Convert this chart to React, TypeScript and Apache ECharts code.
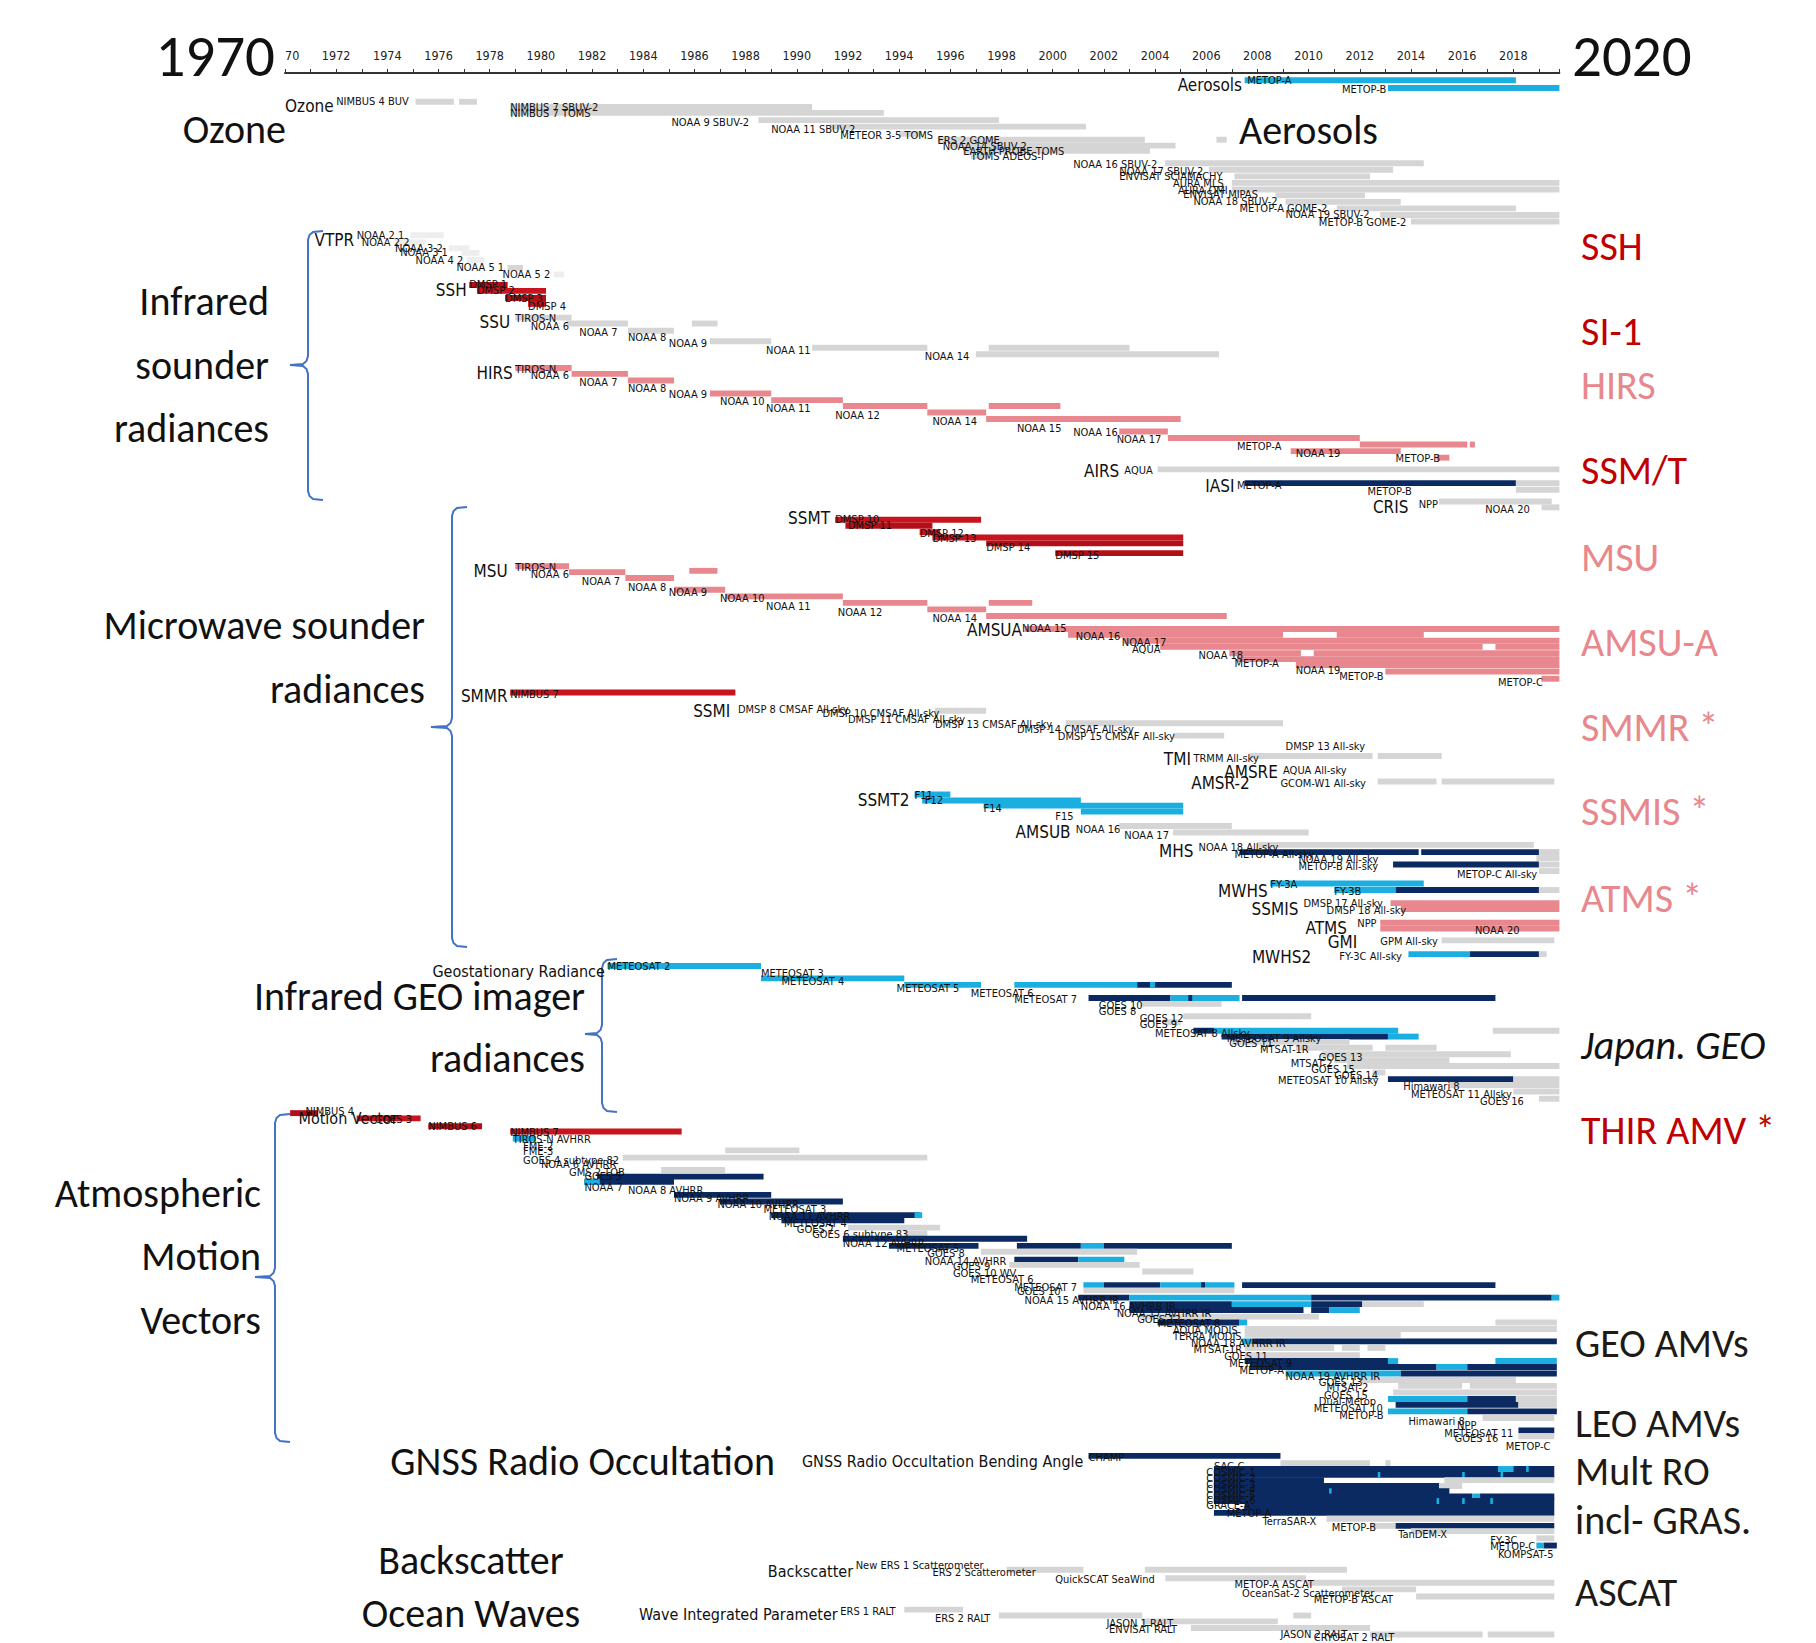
import React, { useEffect, useRef } from "react";
import * as echarts from "echarts";

type Sat = [string, number, number]; // label, row, label left year
type Seg = [number, number, number, string]; // row, start, end, colour key
type Instr = [string, number, number]; // name, row, right-edge year

const X_MIN = 1970;
const X_MAX = 2019.8;
const ROWS = 240;
const BAR_H = 0.9;

const tickYears = [1970, 1972, 1974, 1976, 1978, 1980, 1982, 1984, 1986, 1988, 1990, 1992, 1994, 1996, 1998, 2000, 2002, 2004, 2006, 2008, 2010, 2012, 2014, 2016, 2018];

const BAR_COLORS: Record<string, string> = {
  g: "#d5d5d5",
  v: "#eeeeee",
  r: "#c8141e",
  d: "#b30f18",
  p: "#e8878d",
  c: "#1aafe0",
  n: "#0b2a62",
};

// ---------- Aerosols ----------
const aerosolSats: Sat[] = [["METOP-A", 1.2, 2007.6], ["METOP-B", 2.5, 2011.3]];
const aerosolSegs: Seg[] = [[1.1, 2007.5, 2018.1, "c"], [2.3, 2013.1, 2019.8, "c"]];

// ---------- Ozone ----------
const ozoneSats: Sat[] = [
  ["NIMBUS 4 BUV", 4.4, 1972.0], ["NIMBUS 7 SBUV-2", 5.3, 1978.8], ["NIMBUS 7 TOMS", 6.2, 1978.8],
  ["NOAA 9 SBUV-2", 7.6, 1985.1], ["NOAA 11 SBUV-2", 8.6, 1989.0], ["METEOR 3-5 TOMS", 9.5, 1991.7],
  ["ERS 2 GOME", 10.3, 1995.5], ["NOAA 14 SBUV-2", 11.2, 1995.7], ["EARTH PROBE TOMS", 12.0, 1996.5],
  ["TOMS ADEOS-I", 12.8, 1996.8], ["NOAA 16 SBUV-2", 14.0, 2000.8], ["NOAA 17 SBUV-2", 15.0, 2002.6],
  ["ENVISAT SCIAMACHY", 15.8, 2002.6], ["AURA MLS", 16.9, 2004.7], ["AURA OMI", 17.9, 2004.9],
  ["ENVISAT MIPAS", 18.6, 2005.1], ["NOAA 18 SBUV-2", 19.7, 2005.5], ["METOP-A GOME-2", 20.7, 2007.3],
  ["NOAA 19 SBUV-2", 21.7, 2009.1], ["METOP-B GOME-2", 22.8, 2010.4],
];
const ozoneSegs: Seg[] = [
  [4.4, 1975.1, 1976.6, "g"], [4.4, 1976.8, 1977.5, "g"], [5.2, 1978.8, 1990.6, "g"], [6.1, 1978.8, 1993.4, "g"],
  [7.2, 1988.5, 1997.9, "g"], [8.2, 1991.3, 2001.3, "g"], [9.3, 1994.0, 1994.9, "g"], [10.2, 1995.5, 2003.6, "g"],
  [10.2, 2006.4, 2006.8, "g"], [11.1, 1996.0, 2004.8, "g"], [11.9, 1996.5, 2003.8, "g"], [12.7, 1996.8, 1997.5, "g"],
  [13.8, 2004.4, 2014.5, "g"], [14.8, 2006.1, 2013.3, "g"], [15.8, 2007.1, 2012.4, "g"], [16.8, 2007.0, 2019.8, "g"],
  [17.8, 2007.0, 2019.8, "g"], [18.7, 2008.7, 2012.2, "g"], [19.7, 2009.1, 2013.6, "g"], [20.7, 2011.1, 2018.1, "g"],
  [21.7, 2012.8, 2019.8, "g"], [22.7, 2014.0, 2019.8, "g"],
];

// ---------- Infrared sounders ----------
const irInstr: Instr[] = [["VTPR", 25.5, 1972.7], ["SSH", 33.2, 1977.1], ["SSU", 38.0, 1978.8], ["HIRS", 45.9, 1978.9], ["AIRS", 60.9, 2002.6], ["IASI", 63.2, 2007.1], ["CRIS", 66.3, 2013.9]];
const vtprSats: Sat[] = [["NOAA 2 1", 24.8, 1972.8], ["NOAA 2 2", 25.9, 1973.0], ["NOAA 3 2", 26.8, 1974.3], ["NOAA 3 1", 27.5, 1974.5], ["NOAA 4 2", 28.6, 1975.1], ["NOAA 5 1", 29.8, 1976.7], ["NOAA 5 2", 30.8, 1978.5]];
const vtprSegs: Seg[] = [[24.8, 1974.9, 1976.2, "v"], [25.9, 1974.3, 1975.5, "v"], [26.8, 1976.4, 1977.2, "v"], [27.5, 1976.9, 1977.6, "v"], [28.6, 1977.1, 1977.8, "v"], [29.8, 1978.7, 1979.3, "g"], [30.8, 1980.5, 1980.9, "v"]];
const sshSats: Sat[] = [["DMSP 1", 32.4, 1977.2], ["DMSP 2", 33.3, 1977.5], ["DMSP 3", 34.4, 1978.6], ["DMSP 4", 35.7, 1979.5]];
const sshSegs: Seg[] = [[32.4, 1977.2, 1978.7, "d"], [33.3, 1977.5, 1980.2, "r"], [34.4, 1978.6, 1980.2, "d"], [35.3, 1979.5, 1980.2, "r"]];
const ssuSats: Sat[] = [["TIROS-N", 37.5, 1979.0], ["NOAA 6", 38.7, 1979.6], ["NOAA 7", 39.7, 1981.5], ["NOAA 8", 40.5, 1983.4], ["NOAA 9", 41.4, 1985.0], ["NOAA 11", 42.4, 1988.8], ["NOAA 14", 43.4, 1995.0]];
const ssuSegs: Seg[] = [[37.4, 1979.0, 1981.2, "g"], [38.3, 1981.0, 1983.4, "g"], [38.3, 1985.9, 1986.9, "g"], [39.4, 1983.4, 1985.2, "g"], [41.0, 1986.6, 1989.0, "g"], [42.0, 1990.6, 1995.1, "g"], [42.0, 1997.5, 2003.0, "g"], [43.0, 1997.0, 2006.5, "g"]];
const hirsSats: Sat[] = [
  ["TIROS-N", 45.4, 1979.0], ["NOAA 6", 46.3, 1979.6], ["NOAA 7", 47.3, 1981.5], ["NOAA 8", 48.3, 1983.4], ["NOAA 9", 49.2, 1985.0],
  ["NOAA 10", 50.2, 1987.0], ["NOAA 11", 51.3, 1988.8], ["NOAA 12", 52.3, 1991.5], ["NOAA 14", 53.3, 1995.3], ["NOAA 15", 54.3, 1998.6],
  ["NOAA 16", 55.0, 2000.8], ["NOAA 17", 56.1, 2002.5], ["METOP-A", 57.1, 2007.2], ["NOAA 19", 58.1, 2009.5], ["METOP-B", 59.0, 2013.4],
];
const hirsSegs: Seg[] = [
  [45.1, 1979.0, 1981.2, "p"], [46.0, 1981.2, 1983.4, "p"], [47.0, 1983.4, 1985.2, "p"], [49.0, 1986.6, 1989.0, "p"], [50.0, 1989.0, 1991.8, "p"],
  [50.9, 1991.8, 1995.1, "p"], [50.9, 1997.5, 2000.3, "p"], [51.9, 1995.1, 1997.4, "p"], [52.9, 1997.4, 2005.0, "p"], [54.8, 2002.6, 2004.5, "p"],
  [55.8, 2004.5, 2012.0, "p"], [56.8, 2012.0, 2016.2, "p"], [56.8, 2016.3, 2016.5, "p"], [57.8, 2009.3, 2013.6, "p"], [58.8, 2015.0, 2015.5, "p"],
];
const hyperSats: Sat[] = [["AQUA", 60.8, 2002.8], ["METOP-A", 63.0, 2007.2], ["METOP-B", 64.0, 2012.3], ["NPP", 65.9, 2014.3], ["NOAA 20", 66.8, 2016.9]];
const hyperSegs: Seg[] = [[60.6, 2004.1, 2019.8, "g"], [62.7, 2007.5, 2018.1, "n"], [62.7, 2018.1, 2019.8, "g"], [63.7, 2018.1, 2019.8, "g"], [65.5, 2015.1, 2019.5, "g"], [66.4, 2019.1, 2019.8, "g"]];

// ---------- Microwave sounders ----------
const mwInstr: Instr[] = [
  ["SSMT", 68.1, 1991.3], ["MSU", 76.2, 1978.7], ["AMSUA", 85.1, 1998.8], ["SMMR", 95.3, 1978.7], ["SSMI", 97.6, 1987.4],
  ["TMI", 104.8, 2005.4], ["AMSRE", 106.8, 2008.8], ["AMSR-2", 108.6, 2007.7], ["SSMT2", 111.1, 1994.4], ["AMSUB", 116.0, 2000.7],
  ["MHS", 119.0, 2005.5], ["MWHS", 125.0, 2008.4], ["SSMIS", 127.8, 2009.6], ["ATMS", 130.7, 2011.5], ["GMI", 132.8, 2011.9], ["MWHS2", 135.1, 2010.1],
];
const ssmtSats: Sat[] = [["DMSP 10", 68.3, 1991.5], ["DMSP 11", 69.2, 1992.0], ["DMSP 12", 70.4, 1994.8], ["DMSP 13", 71.1, 1995.3], ["DMSP 14", 72.6, 1997.4], ["DMSP 15", 73.7, 2000.1]];
const ssmtSegs: Seg[] = [[68.3, 1991.5, 1997.2, "r"], [69.2, 1991.9, 1995.3, "d"], [70.2, 1994.8, 1995.6, "r"], [71.0, 1995.3, 2005.1, "r"], [71.9, 1997.4, 2005.1, "d"], [73.4, 2000.1, 2005.1, "d"]];
const msuSats: Sat[] = [["TIROS-N", 75.6, 1979.0], ["NOAA 6", 76.6, 1979.6], ["NOAA 7", 77.8, 1981.6], ["NOAA 8", 78.6, 1983.4], ["NOAA 9", 79.4, 1985.0], ["NOAA 10", 80.4, 1987.0], ["NOAA 11", 81.5, 1988.8], ["NOAA 12", 82.5, 1991.6], ["NOAA 14", 83.4, 1995.3]];
const msuSegs: Seg[] = [[75.4, 1979.0, 1981.1, "p"], [76.3, 1981.1, 1983.3, "p"], [76.1, 1985.8, 1986.9, "p"], [77.2, 1983.3, 1985.2, "p"], [79.0, 1985.2, 1987.2, "p"], [80.0, 1987.2, 1991.8, "p"], [81.0, 1991.8, 1995.1, "p"], [81.0, 1997.5, 1999.2, "p"], [82.0, 1995.1, 1997.4, "p"], [83.0, 1997.4, 2006.8, "p"]];
const amsuaSats: Sat[] = [["NOAA 15", 84.9, 1998.8], ["NOAA 16", 86.2, 2000.9], ["NOAA 17", 87.1, 2002.7], ["AQUA", 88.1, 2003.1], ["NOAA 18", 89.0, 2005.7], ["METOP-A", 90.2, 2007.1], ["NOAA 19", 91.3, 2009.5], ["METOP-B", 92.2, 2011.2], ["METOP-C", 93.2, 2017.4]];
const amsuaSegs: Seg[] = [
  [85.0, 1998.9, 2019.8, "p"], [85.9, 2000.6, 2009.0, "p"], [85.9, 2011.1, 2014.5, "p"], [86.8, 2002.8, 2019.8, "p"], [87.7, 2004.2, 2016.8, "p"],
  [87.7, 2017.3, 2019.8, "p"], [88.7, 2006.9, 2009.7, "p"], [88.7, 2010.2, 2019.8, "p"], [89.6, 2007.2, 2019.8, "p"], [90.5, 2009.5, 2019.8, "p"],
  [91.5, 2013.0, 2019.8, "p"], [92.6, 2019.1, 2019.8, "p"],
];
const smmrSats: Sat[] = [["NIMBUS 7", 95.0, 1978.8]];
const smmrSegs: Seg[] = [[94.7, 1978.8, 1987.6, "r"]];
const imagerSats: Sat[] = [
  ["DMSP 8 CMSAF All-sky", 97.3, 1987.7], ["DMSP 10 CMSAF All-sky", 97.9, 1991.0], ["DMSP 11 CMSAF All-sky", 98.8, 1992.0],
  ["DMSP 13 CMSAF All-sky", 99.6, 1995.4], ["DMSP 14 CMSAF All-sky", 100.4, 1998.6], ["DMSP 15 CMSAF All-sky", 101.4, 2000.2],
  ["DMSP 13 All-sky", 103.0, 2009.1], ["TRMM All-sky", 104.8, 2005.5], ["AQUA All-sky", 106.7, 2009.0], ["GCOM-W1 All-sky", 108.6, 2008.9],
];
const imagerSegs: Seg[] = [[97.5, 1995.4, 1997.4, "g"], [99.4, 2000.5, 2009.0, "g"], [101.3, 2004.7, 2006.7, "g"], [104.4, 2007.7, 2012.5, "g"], [104.4, 2012.7, 2015.2, "g"], [108.3, 2012.7, 2015.0, "g"], [108.3, 2015.2, 2019.6, "g"]];
const ssmt2Sats: Sat[] = [["F11", 110.4, 1994.6], ["F12", 111.2, 1995.0], ["F14", 112.4, 1997.3], ["F15", 113.6, 2000.1]];
const ssmt2Segs: Seg[] = [[110.3, 1994.6, 1996.0, "c"], [111.2, 1994.9, 2001.1, "c"], [112.0, 1997.3, 2005.1, "c"], [112.9, 2001.1, 2005.1, "c"]];
const amsubSats: Sat[] = [["NOAA 16", 115.6, 2000.9], ["NOAA 17", 116.6, 2002.8]];
const amsubSegs: Seg[] = [[115.1, 2002.6, 2007.0, "g"], [116.1, 2004.7, 2010.0, "g"]];
const mhsSats: Sat[] = [["NOAA 18 All-sky", 118.4, 2005.7], ["METOP-A All-sky", 119.5, 2007.1], ["NOAA 19 All-sky", 120.3, 2009.6], ["METOP-B All-sky", 121.3, 2009.6], ["METOP-C All-sky", 122.5, 2015.8]];
const mhsSegs: Seg[] = [[118.0, 2008.0, 2018.8, "g"], [119.1, 2007.3, 2014.3, "n"], [119.1, 2014.4, 2019.0, "n"], [119.1, 2019.0, 2019.8, "g"], [120.0, 2018.9, 2019.8, "g"], [121.0, 2013.3, 2019.0, "n"], [121.0, 2019.0, 2019.8, "g"], [122.0, 2019.0, 2019.8, "g"]];
const mwhsSats: Sat[] = [["FY-3A", 124.1, 2008.5], ["FY-3B", 125.1, 2011.0]];
const mwhsSegs: Seg[] = [[123.9, 2008.5, 2014.5, "c"], [124.9, 2011.0, 2013.4, "c"], [124.9, 2013.4, 2019.0, "n"], [124.9, 2019.0, 2019.8, "g"]];
const ssmisSats: Sat[] = [["DMSP 17 All-sky", 126.9, 2009.8], ["DMSP 18 All-sky", 128.1, 2010.7]];
const ssmisSegs: Seg[] = [[126.9, 2013.2, 2019.8, "p"], [127.8, 2013.6, 2019.8, "p"]];
const atmsSats: Sat[] = [["NPP", 130.0, 2011.9], ["NOAA 20", 131.1, 2016.5]];
const atmsSegs: Seg[] = [[129.9, 2012.8, 2019.8, "p"], [130.8, 2012.8, 2019.8, "p"]];
const gmiSats: Sat[] = [["GPM All-sky", 132.8, 2012.8], ["FY-3C All-sky", 135.0, 2011.2]];
const gmiSegs: Seg[] = [[132.6, 2015.2, 2019.6, "g"], [134.7, 2013.9, 2016.3, "c"], [134.7, 2016.3, 2019.0, "n"], [134.7, 2019.0, 2019.3, "g"]];

// ---------- Geostationary radiances ----------
const geoInstr: Instr[] = [["Geostationary Radiance", 137.4, 1982.5]];
const geoSats: Sat[] = [
  ["METEOSAT 2", 136.6, 1982.6], ["METEOSAT 3", 137.7, 1988.6], ["METEOSAT 4", 138.9, 1989.4], ["METEOSAT 5", 139.9, 1993.9],
  ["METEOSAT 6", 140.7, 1996.8], ["METEOSAT 7", 141.6, 1998.5], ["GOES 10", 142.5, 2001.8], ["GOES 8", 143.4, 2001.8],
  ["GOES 12", 144.5, 2003.4], ["GOES 9", 145.5, 2003.4], ["METEOSAT 8 Allsky", 146.8, 2004.0], ["METEOSAT 9 Allsky", 147.6, 2006.8],
  ["GOES 11", 148.4, 2006.9], ["MTSAT-1R", 149.3, 2008.1], ["GOES 13", 150.5, 2010.4], ["MTSAT-2", 151.4, 2009.3],
  ["GOES 15", 152.3, 2010.1], ["GOES 14", 153.2, 2011.0], ["METEOSAT 10 Allsky", 154.0, 2008.8], ["Himawari 8", 155.0, 2013.7],
  ["METEOSAT 11 Allsky", 156.1, 2014.0], ["GOES 16", 157.2, 2016.7],
];
const geoSegs: Seg[] = [
  [136.5, 1982.6, 1988.6, "c"], [138.4, 1988.6, 1994.2, "c"], [139.4, 1994.2, 1997.2, "c"], [139.4, 1998.5, 2003.3, "c"],
  [139.4, 2003.3, 2007.0, "n"], [139.4, 2003.8, 2004.0, "c"], [141.4, 2001.4, 2004.6, "n"], [141.4, 2004.6, 2007.3, "c"],
  [141.4, 2005.3, 2005.45, "n"], [141.4, 2007.4, 2017.3, "n"], [142.3, 2003.4, 2006.6, "g"], [144.2, 2005.1, 2010.1, "g"],
  [145.1, 2004.3, 2005.0, "g"], [146.4, 2005.5, 2006.3, "n"], [146.4, 2006.3, 2013.5, "c"], [146.4, 2017.2, 2019.8, "g"],
  [147.3, 2006.6, 2013.1, "n"], [147.3, 2013.1, 2014.3, "c"], [148.1, 2007.0, 2011.6, "g"], [149.0, 2009.5, 2012.5, "g"],
  [149.0, 2013.0, 2015.0, "g"], [150.0, 2010.5, 2017.9, "g"], [150.9, 2011.0, 2015.5, "g"], [151.8, 2011.5, 2019.8, "g"],
  [152.8, 2012.5, 2013.0, "g"], [153.8, 2013.1, 2018.0, "n"], [153.8, 2018.0, 2019.8, "g"], [154.7, 2015.5, 2019.8, "g"],
  [155.7, 2018.0, 2019.8, "g"], [156.8, 2019.0, 2019.8, "g"],
];

// ---------- Atmospheric motion vectors ----------
const amvInstr: Instr[] = [["Motion Vector", 159.8, 1974.4]];
const amvSats: Sat[] = [
  ["NIMBUS 4", 158.7, 1970.8], ["GOES 3", 159.9, 1973.5], ["NIMBUS 6", 161.1, 1975.6], ["NIMBUS 7", 161.9, 1978.8],
  ["TIROS-N AVHRR", 163.1, 1978.9], ["FME-2", 164.1, 1979.3], ["FME-3", 164.9, 1979.3], ["GOES 4 subtype 82", 166.2, 1979.3],
  ["NOAA 6 AVHRR", 166.9, 1980.0], ["GMS 2 TOB", 168.0, 1981.1], ["GOES 5", 168.7, 1981.7], ["NOAA 7", 170.3, 1981.7],
  ["NOAA 8 AVHRR", 170.9, 1983.4], ["NOAA 9 AVHRR", 172.0, 1985.2], ["NOAA 10 AVHRR", 173.0, 1986.9], ["METEOSAT 3", 173.8, 1988.7],
  ["NOAA 11 AVHRR", 174.8, 1988.9], ["METEOSAT 4", 175.9, 1989.5], ["GOES 7", 176.8, 1990.0], ["GOES 6 subtype 83", 177.6, 1990.6],
  ["NOAA 12 AVHRR", 178.9, 1991.8], ["METEOSAT 5", 179.7, 1993.9], ["GOES 8", 180.5, 1995.1], ["NOAA 14 AVHRR", 181.7, 1995.0],
  ["GOES 9", 182.5, 1996.1], ["GOES 10 WV", 183.5, 1996.1], ["METEOSAT 6", 184.5, 1996.8], ["METEOSAT 7", 185.6, 1998.5],
  ["GOES 10", 186.3, 1998.6], ["NOAA 15 AVHRR IR", 187.6, 1998.9], ["NOAA 16 AVHRR IR", 188.6, 2001.1], ["NOAA 17 AVHRR IR", 189.6, 2002.5],
  ["GOES 12", 190.6, 2003.3], ["METEOSAT 8", 191.1, 2004.1], ["AQUA MODIS", 192.2, 2004.7], ["TERRA MODIS", 193.2, 2004.7],
  ["NOAA 18 AVHRR IR", 194.2, 2005.4], ["MTSAT-1R", 195.2, 2005.5], ["GOES 11", 196.2, 2006.7], ["METEOSAT 9", 197.2, 2006.9],
  ["METOP-A", 198.3, 2007.3], ["NOAA 19 AVHRR IR", 199.3, 2009.1], ["GOES 13", 200.2, 2010.4], ["MTSAT-2", 200.9, 2010.7],
  ["GOES 15", 202.1, 2010.6], ["Dual-Metop", 203.1, 2010.4], ["METEOSAT 10", 204.1, 2010.2], ["METOP-B", 205.2, 2011.2],
  ["Himawari 8", 206.1, 2013.9], ["NPP", 206.8, 2015.8], ["METEOSAT 11", 207.9, 2015.3], ["GOES 16", 208.8, 2015.7], ["METOP-C", 209.9, 2017.7],
];
const amvSegs: Seg[] = [
  [159.0, 1970.2, 1971.3, "d"], [159.8, 1972.8, 1975.3, "r"], [161.0, 1975.6, 1977.7, "d"], [161.8, 1978.8, 1985.5, "r"],
  [162.9, 1978.9, 1979.8, "c"], [164.7, 1987.2, 1990.1, "g"], [165.8, 1983.2, 1995.1, "g"], [167.7, 1984.7, 1987.2, "g"],
  [168.7, 1982.2, 1988.7, "n"], [169.5, 1981.7, 1985.2, "n"], [169.5, 1981.7, 1982.3, "c"], [171.5, 1985.2, 1989.0, "n"],
  [172.5, 1987.0, 1991.8, "n"], [174.6, 1989.0, 1994.8, "n"], [174.6, 1994.6, 1994.9, "c"], [175.4, 1989.4, 1994.2, "n"],
  [176.5, 1992.0, 1995.6, "g"], [177.4, 1994.2, 1995.1, "g"], [178.2, 1991.8, 1999.0, "n"], [179.3, 1993.6, 1997.1, "n"],
  [179.3, 1998.6, 2001.1, "n"], [179.3, 2001.1, 2002.0, "c"], [179.3, 2002.0, 2007.0, "n"], [180.2, 1997.2, 2003.3, "g"],
  [181.4, 1998.5, 2001.0, "n"], [181.4, 2001.0, 2002.8, "c"], [182.2, 1998.3, 2003.4, "g"], [183.2, 2003.5, 2005.5, "g"],
  [185.3, 2001.2, 2002.0, "c"], [185.3, 2002.0, 2004.2, "n"], [185.3, 2004.2, 2007.1, "c"], [185.3, 2005.8, 2005.95, "n"],
  [185.3, 2007.4, 2017.3, "n"], [186.1, 2001.2, 2007.1, "g"], [187.2, 2001.0, 2003.0, "n"], [187.2, 2003.0, 2010.1, "c"],
  [187.2, 2010.1, 2019.5, "n"], [187.2, 2019.5, 2019.8, "c"], [188.2, 2003.0, 2007.0, "n"], [188.2, 2007.0, 2010.1, "c"],
  [188.2, 2010.1, 2012.1, "n"], [188.2, 2012.1, 2014.5, "g"], [189.1, 2003.0, 2009.8, "n"], [189.1, 2010.1, 2010.8, "n"],
  [189.1, 2010.8, 2012.0, "c"], [190.1, 2003.4, 2010.4, "g"], [191.0, 2004.1, 2007.3, "n"], [191.0, 2007.3, 2007.6, "c"],
  [191.0, 2017.3, 2019.7, "g"], [192.0, 2007.5, 2019.7, "g"], [192.9, 2007.5, 2013.6, "g"], [193.9, 2007.4, 2007.8, "c"],
  [193.9, 2007.8, 2019.7, "n"], [194.9, 2007.5, 2011.0, "g"], [194.9, 2011.3, 2012.0, "g"], [194.9, 2012.3, 2013.0, "g"],
  [196.0, 2007.5, 2012.0, "g"], [196.9, 2007.5, 2013.1, "n"], [196.9, 2013.1, 2013.5, "c"], [196.9, 2017.3, 2019.7, "c"],
  [197.8, 2007.7, 2015.0, "n"], [197.8, 2015.0, 2016.2, "c"], [197.8, 2016.2, 2019.7, "n"], [198.8, 2009.1, 2013.6, "c"],
  [198.8, 2013.6, 2019.7, "n"], [199.8, 2012.0, 2018.1, "g"], [200.7, 2013.5, 2016.0, "g"], [200.7, 2016.3, 2019.7, "g"],
  [201.7, 2013.3, 2019.7, "g"], [202.7, 2013.1, 2016.2, "c"], [202.7, 2016.2, 2018.1, "n"], [202.7, 2018.1, 2019.7, "g"],
  [203.6, 2013.4, 2018.2, "n"], [203.6, 2018.2, 2019.7, "g"], [204.6, 2013.1, 2016.2, "c"], [204.6, 2016.2, 2019.7, "n"],
  [205.6, 2016.8, 2019.6, "g"], [207.5, 2018.2, 2019.6, "n"], [208.4, 2018.2, 2019.6, "g"],
];

// ---------- GNSS radio occultation ----------
const gnssInstr: Instr[] = [["GNSS Radio Occultation Bending Angle", 212.2, 2001.2]];
const gnssSats: Sat[] = [
  ["CHAMP", 211.7, 2001.4], ["SAC-C", 213.0, 2006.3], ["COSMIC-1", 214.0, 2006.0], ["COSMIC-2", 214.9, 2006.0],
  ["COSMIC-3", 215.8, 2006.0], ["COSMIC-4", 216.6, 2006.0], ["COSMIC-5", 217.4, 2006.0], ["COSMIC-6", 218.2, 2006.0],
  ["GRACE-A", 219.0, 2006.0], ["METOP-A", 220.2, 2006.8], ["TerraSAR-X", 221.5, 2008.2], ["METOP-B", 222.4, 2010.9],
  ["TanDEM-X", 223.4, 2013.5], ["FY-3C", 224.3, 2017.1], ["METOP-C", 225.3, 2017.1], ["KOMPSAT-5", 226.5, 2017.4],
];
const gnssSegs: Seg[] = [
  [211.4, 2001.4, 2008.9, "n"], [212.5, 2008.9, 2012.4, "g"], [212.5, 2013.0, 2013.2, "g"],
  [213.4, 2006.3, 2017.4, "n"], [213.4, 2017.4, 2018.0, "c"], [213.4, 2018.0, 2019.6, "n"], [213.4, 2018.5, 2018.6, "c"],
  [214.3, 2006.3, 2019.6, "n"], [214.3, 2012.7, 2012.8, "c"], [214.3, 2016.0, 2016.1, "c"], [214.3, 2017.5, 2017.6, "c"],
  [215.1, 2006.3, 2010.6, "n"], [215.1, 2015.3, 2019.6, "g"], [216.0, 2006.3, 2015.1, "n"], [216.0, 2015.1, 2016.0, "g"],
  [216.8, 2006.3, 2015.5, "n"], [216.8, 2010.8, 2010.9, "c"], [217.6, 2006.3, 2016.4, "n"], [217.6, 2016.4, 2016.7, "c"],
  [217.6, 2016.7, 2019.6, "n"], [218.3, 2006.3, 2019.6, "n"], [218.3, 2015.0, 2015.1, "c"], [218.3, 2016.0, 2016.1, "c"],
  [218.3, 2017.1, 2017.2, "c"], [219.2, 2007.5, 2019.6, "n"], [220.1, 2006.3, 2019.6, "n"], [221.0, 2010.7, 2019.6, "g"],
  [222.1, 2012.4, 2013.4, "g"], [222.1, 2013.4, 2019.6, "n"], [222.9, 2014.0, 2019.6, "g"], [224.0, 2018.9, 2019.6, "g"],
  [225.1, 2018.9, 2019.2, "c"], [225.1, 2019.2, 2019.7, "n"],
];

// ---------- Backscatter and waves ----------
const oceanInstr: Instr[] = [["Backscatter", 229.0, 1992.2], ["Wave Integrated Parameter", 235.7, 1991.6]];
const backscatterSats: Sat[] = [
  ["New ERS 1 Scatterometer", 228.2, 1992.3], ["ERS 2 Scatterometer", 229.2, 1995.3], ["QuickSCAT SeaWind", 230.3, 2000.1],
  ["METOP-A ASCAT", 231.1, 2007.1], ["OceanSat-2 Scatterometer", 232.4, 2007.4], ["METOP-B ASCAT", 233.4, 2010.2],
];
const backscatterSegs: Seg[] = [[228.8, 1998.2, 2001.2, "g"], [228.8, 2003.6, 2011.5, "g"], [230.1, 2004.4, 2009.9, "g"], [230.8, 2009.9, 2019.6, "g"], [231.8, 2011.3, 2014.2, "g"], [232.9, 2014.2, 2019.6, "g"]];
const waveSats: Sat[] = [["ERS 1 RALT", 235.2, 1991.7], ["ERS 2 RALT", 236.2, 1995.4], ["JASON 1 RALT", 237.0, 2002.1], ["ENVISAT RALT", 237.9, 2002.2], ["JASON 2 RALT", 238.7, 2008.9], ["CRYOSAT 2 RALT", 239.2, 2010.2]];
const waveSegs: Seg[] = [[234.9, 1994.2, 1996.5, "g"], [235.8, 1997.9, 2003.5, "g"], [235.8, 2009.4, 2010.1, "g"], [236.7, 2003.5, 2008.8, "g"], [237.7, 2005.4, 2012.4, "g"], [238.7, 2012.4, 2016.8, "g"], [238.7, 2017.0, 2019.6, "g"]];

const topInstr: Instr[] = [["Aerosols", 1.9, 2007.4], ["Ozone", 5.0, 1971.9]];

const SMALL_FONT = "11px 'DejaVu Sans Condensed', 'DejaVu Sans', sans-serif";
const INSTR_FONT = "17px 'DejaVu Sans Condensed', 'DejaVu Sans', sans-serif";
const LONG_FONT = "16px 'DejaVu Sans Condensed', 'DejaVu Sans', sans-serif";
const BIG = "Carlito, Lato, sans-serif";
const SEC = 40; // section label size

function txt(text: string, x: number, y: number, size: number, align: string, fill = "#111", style = "") {
  return {
    type: "text",
    silent: true,
    style: {
      text, x, y, fill,
      font: `${style}${size}px ${BIG}`,
      textAlign: align, textVerticalAlign: "middle",
      align, verticalAlign: "middle",
    },
  };
}

function bracket(x: number, top: number, bottom: number, mid: number, tip: number) {
  const hook = 15;
  return {
    type: "polyline",
    silent: true,
    shape: {
      points: [
        [x + hook, top], [x + 5, top + 1], [x + 1.5, top + 4], [x, top + 9],
        [x, mid - 9], [x - 1.5, mid - 4], [x - 5, mid - 1], [tip, mid],
        [x - 5, mid + 1], [x - 1.5, mid + 4], [x, mid + 9],
        [x, bottom - 9], [x + 1.5, bottom - 4], [x + 5, bottom - 1], [x + hook, bottom],
      ],
    },
    style: { stroke: "#4472c4", lineWidth: 2, fill: "none" },
  };
}

export default function App() {
  const ref = useRef<HTMLDivElement>(null);

  useEffect(() => {
    if (!ref.current) return;
    const chart = echarts.init(ref.current, null, { renderer: "svg" });

    const segs: Seg[] = [
      ...aerosolSegs, ...ozoneSegs, ...vtprSegs, ...sshSegs, ...ssuSegs, ...hirsSegs, ...hyperSegs,
      ...ssmtSegs, ...msuSegs, ...amsuaSegs, ...smmrSegs, ...imagerSegs, ...ssmt2Segs, ...amsubSegs, ...mhsSegs,
      ...mwhsSegs, ...ssmisSegs, ...atmsSegs, ...gmiSegs, ...geoSegs, ...amvSegs, ...gnssSegs, ...backscatterSegs, ...waveSegs,
    ];
    const sats: Sat[] = [
      ...aerosolSats, ...ozoneSats, ...vtprSats, ...sshSats, ...ssuSats, ...hirsSats, ...hyperSats,
      ...ssmtSats, ...msuSats, ...amsuaSats, ...smmrSats, ...imagerSats, ...ssmt2Sats, ...amsubSats, ...mhsSats,
      ...mwhsSats, ...ssmisSats, ...atmsSats, ...gmiSats, ...geoSats, ...amvSats, ...gnssSats, ...backscatterSats, ...waveSats,
    ];
    const instrs: Instr[] = [...topInstr, ...irInstr, ...mwInstr, ...geoInstr, ...amvInstr, ...gnssInstr, ...oceanInstr];

    const graphics: any[] = [
      txt("1970", 275, 56, 59, "right"),
      txt("2020", 1572, 56, 59, "left"),
      txt("Ozone", 286, 129, SEC, "right"),
      txt("Aerosols", 1239, 130, SEC, "left"),
      txt("Infrared", 269, 301, SEC, "right"),
      txt("sounder", 269, 365, SEC, "right"),
      txt("radiances", 269, 428, SEC, "right"),
      txt("Microwave sounder", 425, 625, SEC, "right"),
      txt("radiances", 425, 689, SEC, "right"),
      txt("Infrared GEO imager", 585, 996, SEC, "right"),
      txt("radiances", 585, 1058, SEC, "right"),
      txt("Atmospheric", 261, 1193, SEC, "right"),
      txt("Motion", 261, 1256, SEC, "right"),
      txt("Vectors", 261, 1320, SEC, "right"),
      txt("GNSS Radio Occultation", 775, 1461, SEC, "right"),
      txt("Backscatter", 471, 1560, SEC, "center"),
      txt("Ocean Waves", 471, 1613, SEC, "center"),
      txt("SSH", 1581, 246, SEC, "left", "#c00000"),
      txt("SI-1", 1581, 331, SEC, "left", "#c00000"),
      txt("HIRS", 1581, 385, SEC, "left", "#e8878c"),
      txt("SSM/T", 1581, 470, SEC, "left", "#c00000"),
      txt("MSU", 1581, 557, SEC, "left", "#e8878c"),
      txt("AMSU-A", 1581, 642, SEC, "left", "#e8878c"),
      txt("SMMR *", 1581, 727, SEC, "left", "#e8878c"),
      txt("SSMIS *", 1581, 811, SEC, "left", "#e8878c"),
      txt("ATMS *", 1581, 898, SEC, "left", "#e8878c"),
      txt("Japan. GEO", 1581, 1045, SEC, "left", "#111", "italic "),
      txt("THIR AMV *", 1581, 1130, SEC, "left", "#c00000"),
      txt("GEO AMVs", 1575, 1343, SEC, "left", "#1e1a16"),
      txt("LEO AMVs", 1575, 1423, SEC, "left", "#1e1a16"),
      txt("Mult RO", 1575, 1471, SEC, "left", "#1e1a16"),
      txt("incl- GRAS.", 1575, 1520, SEC, "left", "#1e1a16"),
      txt("ASCAT", 1575, 1592, SEC, "left", "#1e1a16"),
      bracket(308, 231, 500, 365, 290),
      bracket(452, 507, 947, 727, 431),
      bracket(602, 959, 1112, 1034, 585),
      bracket(275, 1114, 1442, 1277, 255),
    ];

    const option: any = {
      animation: false,
      backgroundColor: "#ffffff",
      grid: { left: 285, right: 1816 - 1559.4, top: 73, bottom: 0 },
      xAxis: {
        type: "value",
        position: "top",
        min: X_MIN,
        max: X_MAX,
        interval: 1,
        splitLine: { show: false },
        axisLine: { show: true, lineStyle: { color: "#333", width: 2 } },
        axisTick: { show: true, inside: false, length: 4, lineStyle: { color: "#333", width: 1 } },
        axisLabel: {
          margin: 11,
          fontSize: 12.5,
          color: "#222",
          alignMinLabel: "left",
          fontFamily: "'DejaVu Sans Condensed', 'DejaVu Sans', sans-serif",
          formatter: (v: number) => {
            const y = Math.round(v);
            if (Math.abs(v - y) > 1e-6 || tickYears.indexOf(y) < 0) return "";
            return y === 1970 ? "70" : String(y);
          },
        },
      },
      yAxis: { type: "value", min: 0, max: ROWS, inverse: true, show: false },
      graphic: { elements: graphics },
      series: [
        {
          type: "custom",
          name: "bars",
          clip: false,
          encode: { x: [0, 2], y: 1 },
          data: segs.map((s) => [s[1], s[0], s[2]]),
          renderItem: (params: any, api: any) => {
            const row = api.value(1);
            const p0 = api.coord([api.value(0), row]);
            const p1 = api.coord([api.value(2), row]);
            const h = api.size([0, BAR_H])[1];
            return {
              type: "rect",
              shape: { x: p0[0], y: p0[1] - h / 2, width: Math.max(p1[0] - p0[0], 1), height: h },
              style: { fill: BAR_COLORS[segs[params.dataIndex][3]] },
            };
          },
        },
        {
          type: "custom",
          name: "labels",
          clip: false,
          data: sats.map((s) => [s[2], s[1]]),
          renderItem: (params: any, api: any) => {
            const p = api.coord([api.value(0), api.value(1)]);
            return {
              type: "text",
              style: {
                text: sats[params.dataIndex][0], x: p[0], y: p[1], fill: "#111", font: SMALL_FONT,
                textAlign: "left", textVerticalAlign: "middle", align: "left", verticalAlign: "middle",
              },
            };
          },
        },
        {
          type: "custom",
          name: "instruments",
          clip: false,
          data: instrs.map((s) => [s[2], s[1]]),
          renderItem: (params: any, api: any) => {
            const p = api.coord([api.value(0), api.value(1)]);
            const name = instrs[params.dataIndex][0];
            return {
              type: "text",
              style: {
                text: name, x: p[0], y: p[1], fill: "#111", font: name.length > 8 ? LONG_FONT : INSTR_FONT,
                textAlign: "right", textVerticalAlign: "middle", align: "right", verticalAlign: "middle",
              },
            };
          },
        },
      ],
    };
    chart.setOption(option);
    return () => chart.dispose();
  }, []);

  return (
    <div
      ref={ref}
      style={{ position: "absolute", left: 0, top: 0, width: 1816, height: 1643, background: "#fff" }}
    />
  );
}
